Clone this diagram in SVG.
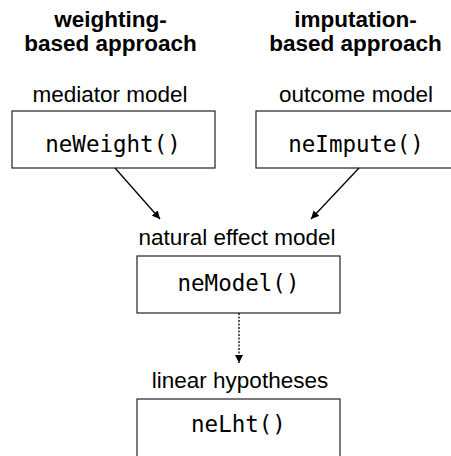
<svg xmlns="http://www.w3.org/2000/svg" width="451" height="456" viewBox="0 0 451 456">
<style>
.title{font-family:"Liberation Sans",Arial,sans-serif;font-weight:bold;font-size:22.5px;fill:#000;text-anchor:middle}
.lab{font-family:"Liberation Sans",Arial,sans-serif;font-size:22.5px;fill:#000;text-anchor:middle}
.code{font-family:"DejaVu Sans Mono",monospace;font-size:22.5px;fill:#000;text-anchor:middle}
.box{fill:#fff;stroke:#222;stroke-width:1.2}
.conn{stroke:#000;stroke-width:1.3;fill:none}
</style>
<defs>
<marker id="ah" viewBox="0 0 10 10" refX="10" refY="5" markerWidth="8" markerHeight="8" markerUnits="userSpaceOnUse" orient="auto">
<path d="M0,0 L10,5 L0,10 z" fill="#000"/>
</marker>
</defs>
<rect width="451" height="456" fill="#fff"/>
<text class="title" x="110.5" y="27">weighting-</text>
<text class="title" x="110.5" y="51">based approach</text>
<text class="title" x="355.5" y="27">imputation-</text>
<text class="title" x="355.5" y="51">based approach</text>
<g id="neWeight">
<text class="lab" x="110" y="101.5">mediator model</text>
<rect class="box" x="12" y="111" width="203" height="57"/>
<text class="code" x="113" y="152">neWeight()</text>
</g>
<g id="neImpute">
<text class="lab" x="356" y="101.5">outcome model</text>
<rect class="box" x="256" y="111" width="200" height="57"/>
<text class="code" x="356" y="152">neImpute()</text>
</g>
<g id="neModel">
<text class="lab" x="237" y="245">natural effect model</text>
<rect class="box" x="137" y="256" width="203" height="57"/>
<text class="code" x="238.5" y="291">neModel()</text>
</g>
<g id="neLht">
<text class="lab" x="240" y="388">linear hypotheses</text>
<rect class="box" x="137" y="399" width="203" height="60"/>
<text class="code" x="238.5" y="432">neLht()</text>
</g>
<g id="connectors">
<line class="conn" x1="115" y1="168" x2="160" y2="219" marker-end="url(#ah)"/>
<line class="conn" x1="359" y1="168" x2="311" y2="219" marker-end="url(#ah)"/>
<line class="conn" x1="239" y1="313" x2="239" y2="363" stroke-dasharray="2,1.5" marker-end="url(#ah)"/>
</g>
</svg>
